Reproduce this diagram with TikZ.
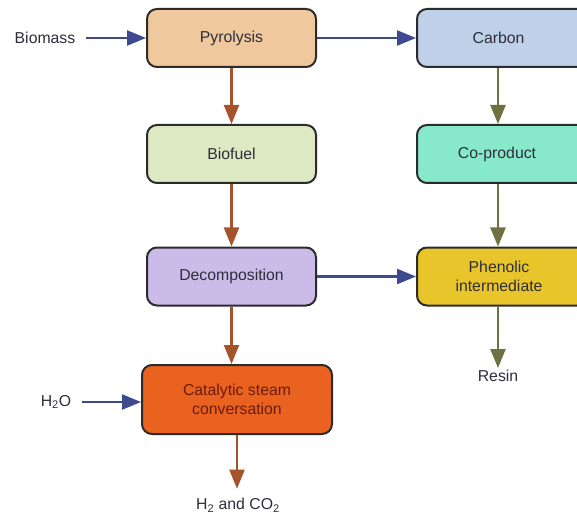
\documentclass[tikz,border=0pt]{standalone}
\usepackage{fontspec}
\setmainfont{Liberation Sans}
\usetikzlibrary{arrows.meta}
\definecolor{cPyro}{HTML}{EFC89E}
\definecolor{cCarbon}{HTML}{BED1E8}
\definecolor{cBiofuel}{HTML}{DDE9C3}
\definecolor{cCoprod}{HTML}{88E8CA}
\definecolor{cDecomp}{HTML}{CBBBE8}
\definecolor{cPhenol}{HTML}{E9C52C}
\definecolor{cCatal}{HTML}{E9621F}
\definecolor{cCatalTxt}{HTML}{6A1C0C}
\definecolor{cBorder}{HTML}{2B2B2B}
\definecolor{cBlue}{HTML}{3E4A90}
\definecolor{cBrown}{HTML}{A5532B}
\definecolor{cOlive}{HTML}{6F7142}
\definecolor{cText}{HTML}{2E2E3A}
\tikzset{
  procbox/.style={draw=cBorder, line width=2pt, rounded corners=10pt,
    minimum width=169pt, minimum height=58pt, align=center,
    font=\fontsize{15.8}{19}\selectfont, text=cText, inner sep=2pt},
  rightbox/.style={procbox, minimum width=170pt},
  boxcaption/.style={align=center, font=\fontsize{15.8}{19}\selectfont,
    text=cText, inner sep=2pt},
  label text/.style={font=\fontsize{15.8}{19}\selectfont, text=cText, inner sep=1pt},
  flow/.style={line width=2.3pt, -{Triangle[length=19pt,width=15pt]}},
  bluearrow/.style={flow, draw=cBlue, fill=cBlue},
  brownarrow/.style={flow, draw=cBrown, fill=cBrown},
  olivearrow/.style={flow, draw=cOlive, fill=cOlive},
}
\begin{document}
\begin{tikzpicture}[x=1pt, y=-1pt]
  \clip (0,0) rectangle (577,518);
  \fill[white] (0,0) rectangle (577,518);

  % left column
  \node[procbox, fill=cPyro]    (pyro)    at (231.5,38)  {Pyrolysis};
  \node[procbox, fill=cBiofuel] (biofuel) at (231.5,154) {Biofuel};
  \node[procbox, fill=cDecomp]  (decomp)  at (231.5,276.5) {Decomposition};
  \node[procbox, fill=cCatal, text=cCatalTxt, minimum width=190pt, minimum height=69pt]
        (catal) at (237,399.5) {Catalytic steam\\conversation};

  % right column (boxes run past the right margin)
  \node[rightbox, fill=cCarbon]  (carbon)   at (502,38)  {};
  \node[rightbox, fill=cCoprod]  (coprod)   at (502,154) {};
  \node[rightbox, fill=cPhenol]  (phenolic) at (502,276.5) {};
  \node[boxcaption] (carbontxt)   at (498.5,38)  {Carbon};
  \node[boxcaption] (coprodtxt)   at (497,154)   {Co-product};
  \node[boxcaption] (phenolictxt) at (499,276.5) {Phenolic\\intermediate};

  % inputs and outputs
  \node[label text] (biomass) at (45,38)   {Biomass};
  \node[label text] (water)   at (56,402)  {H\textsubscript{2}O};
  \node[label text] (resin)   at (498,376) {Resin};
  \node[label text] (gas)     at (238,505) {H\textsubscript{2} and CO\textsubscript{2}};

  % horizontal feeds
  \draw[bluearrow, shorten <=10pt] (biomass.east) -- (pyro.west);
  \draw[bluearrow] (pyro.east) -- (carbon.west);
  \draw[bluearrow] (decomp.east) -- (phenolic.west);
  \draw[bluearrow, shorten <=10pt] (water.east) -- (water.east -| catal.west);

  % left chain
  \draw[brownarrow] (pyro.south) -- (biofuel.north);
  \draw[brownarrow] (biofuel.south) -- (decomp.north);
  \draw[brownarrow] (decomp.south) -- (decomp.south |- catal.north);
  \draw[brownarrow, shorten >=8pt] (catal.south) -- (gas.north -| catal.south);

  % right chain
  \draw[olivearrow] (carbon.south -| resin) -- (coprod.north -| resin);
  \draw[olivearrow] (coprod.south -| resin) -- (phenolic.north -| resin);
  \draw[olivearrow, shorten >=1pt] (phenolic.south -| resin) -- (resin.north);
\end{tikzpicture}
\end{document}
